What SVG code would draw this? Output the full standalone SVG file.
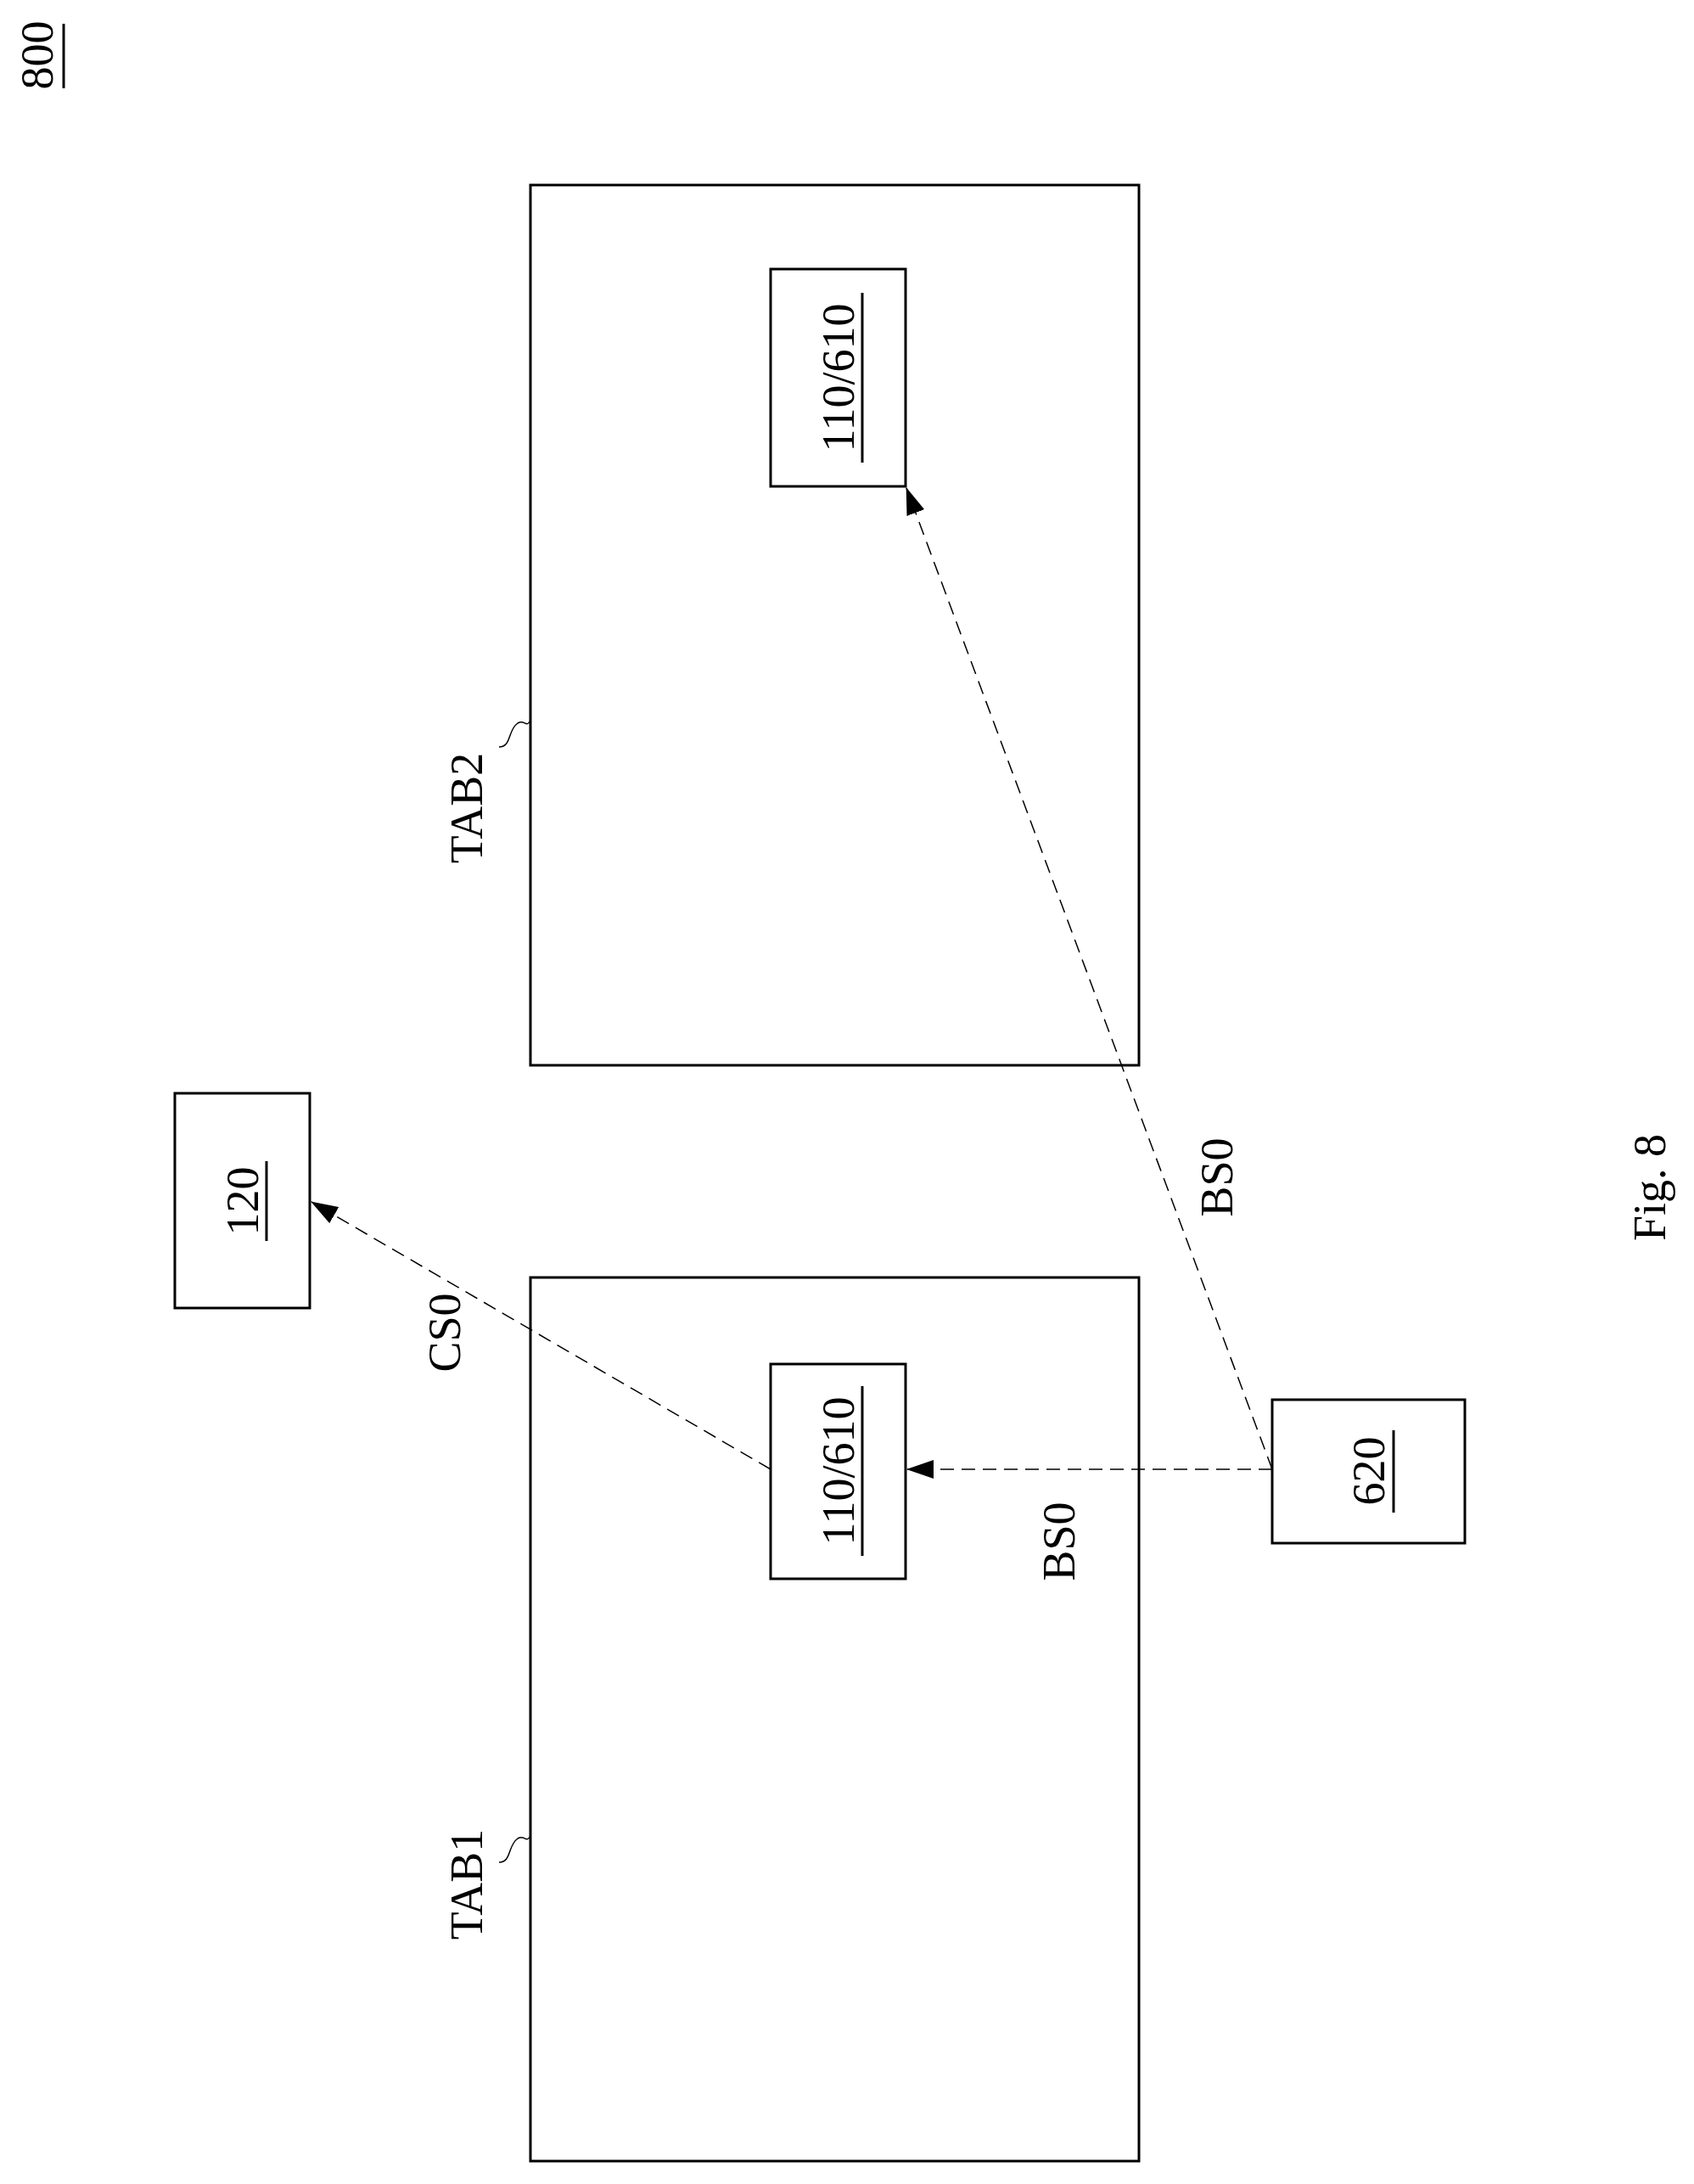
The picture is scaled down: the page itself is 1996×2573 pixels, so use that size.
<svg xmlns="http://www.w3.org/2000/svg" width="1996" height="2573" viewBox="0 0 1996 2573">
<style>
.b{fill:none;stroke:#000;stroke-width:3}
.t{font-family:"Liberation Serif",serif;font-size:54px;fill:#000;text-anchor:middle}
.c{fill:none;stroke:#000;stroke-width:1.5;stroke-dasharray:16 9}
.u{stroke:#000;stroke-width:3}
</style>
<defs><marker id="a" markerWidth="32" markerHeight="22" refX="31" refY="11" orient="auto" markerUnits="userSpaceOnUse" viewBox="0 0 32 22"><path d="M0,0L32,11L0,22z" fill="#000"/></marker></defs>
<rect width="1996" height="2573" fill="#fff"/>
<g id="title"><text class="t" transform="translate(62,65) rotate(-90)">800</text><line class="u" x1="75" y1="28" x2="75" y2="104"/></g>
<g id="tab2"><rect class="b" x="625" y="218" width="717" height="1037"/>
<text class="t" transform="translate(568,952) rotate(-90)" font-size="56">TAB2</text>
<path d="M588,880c15,0 10,-20 22,-28c8,-5 10,6 15,-3" fill="none" stroke="#000" stroke-width="1.5"/></g>
<g id="n2"><rect class="b" x="908" y="317" width="159" height="256"/>
<text class="t" transform="translate(1006,445) rotate(-90)">110/610</text><line class="u" x1="1016" y1="345" x2="1016" y2="545"/></g>
<g id="tab1"><rect class="b" x="625" y="1505" width="717" height="1041"/>
<text class="t" transform="translate(568,2220) rotate(-90)" font-size="56">TAB1</text>
<path d="M588,2194c15,0 10,-20 22,-28c8,-5 10,6 15,-3" fill="none" stroke="#000" stroke-width="1.5"/></g>
<g id="n1"><rect class="b" x="908" y="1607" width="159" height="253"/>
<text class="t" transform="translate(1006,1733) rotate(-90)">110/610</text><line class="u" x1="1016" y1="1633" x2="1016" y2="1833"/></g>
<g id="n120"><rect class="b" x="206" y="1288" width="159" height="253"/>
<text class="t" transform="translate(304,1415) rotate(-90)">120</text><line class="u" x1="314" y1="1368" x2="314" y2="1462"/></g>
<g id="n620"><rect class="b" x="1499" y="1649" width="227" height="169"/>
<text class="t" transform="translate(1631,1733) rotate(-90)">620</text><line class="u" x1="1642" y1="1685" x2="1642" y2="1782"/></g>
<g id="connectors">
<line class="c" x1="1499" y1="1731" x2="1069" y2="1731" marker-end="url(#a)" stroke-width="2.5"/>
<line class="c" x1="1499" y1="1731" x2="1068" y2="575" marker-end="url(#a)"/>
<line class="c" x1="908" y1="1731" x2="367" y2="1416" marker-end="url(#a)" stroke-dasharray="16 5 3 5"/>
</g>
<g id="labels">
<text class="t" transform="translate(1266,1816) rotate(-90)" font-size="56">BS0</text>
<text class="t" transform="translate(1452,1387) rotate(-90)" font-size="56">BS0</text>
<text class="t" transform="translate(542,1570) rotate(-90)" font-size="56">CS0</text>
<text class="t" transform="translate(1962,1399) rotate(-90)" font-size="100">Fig. 8</text>
</g>
</svg>
